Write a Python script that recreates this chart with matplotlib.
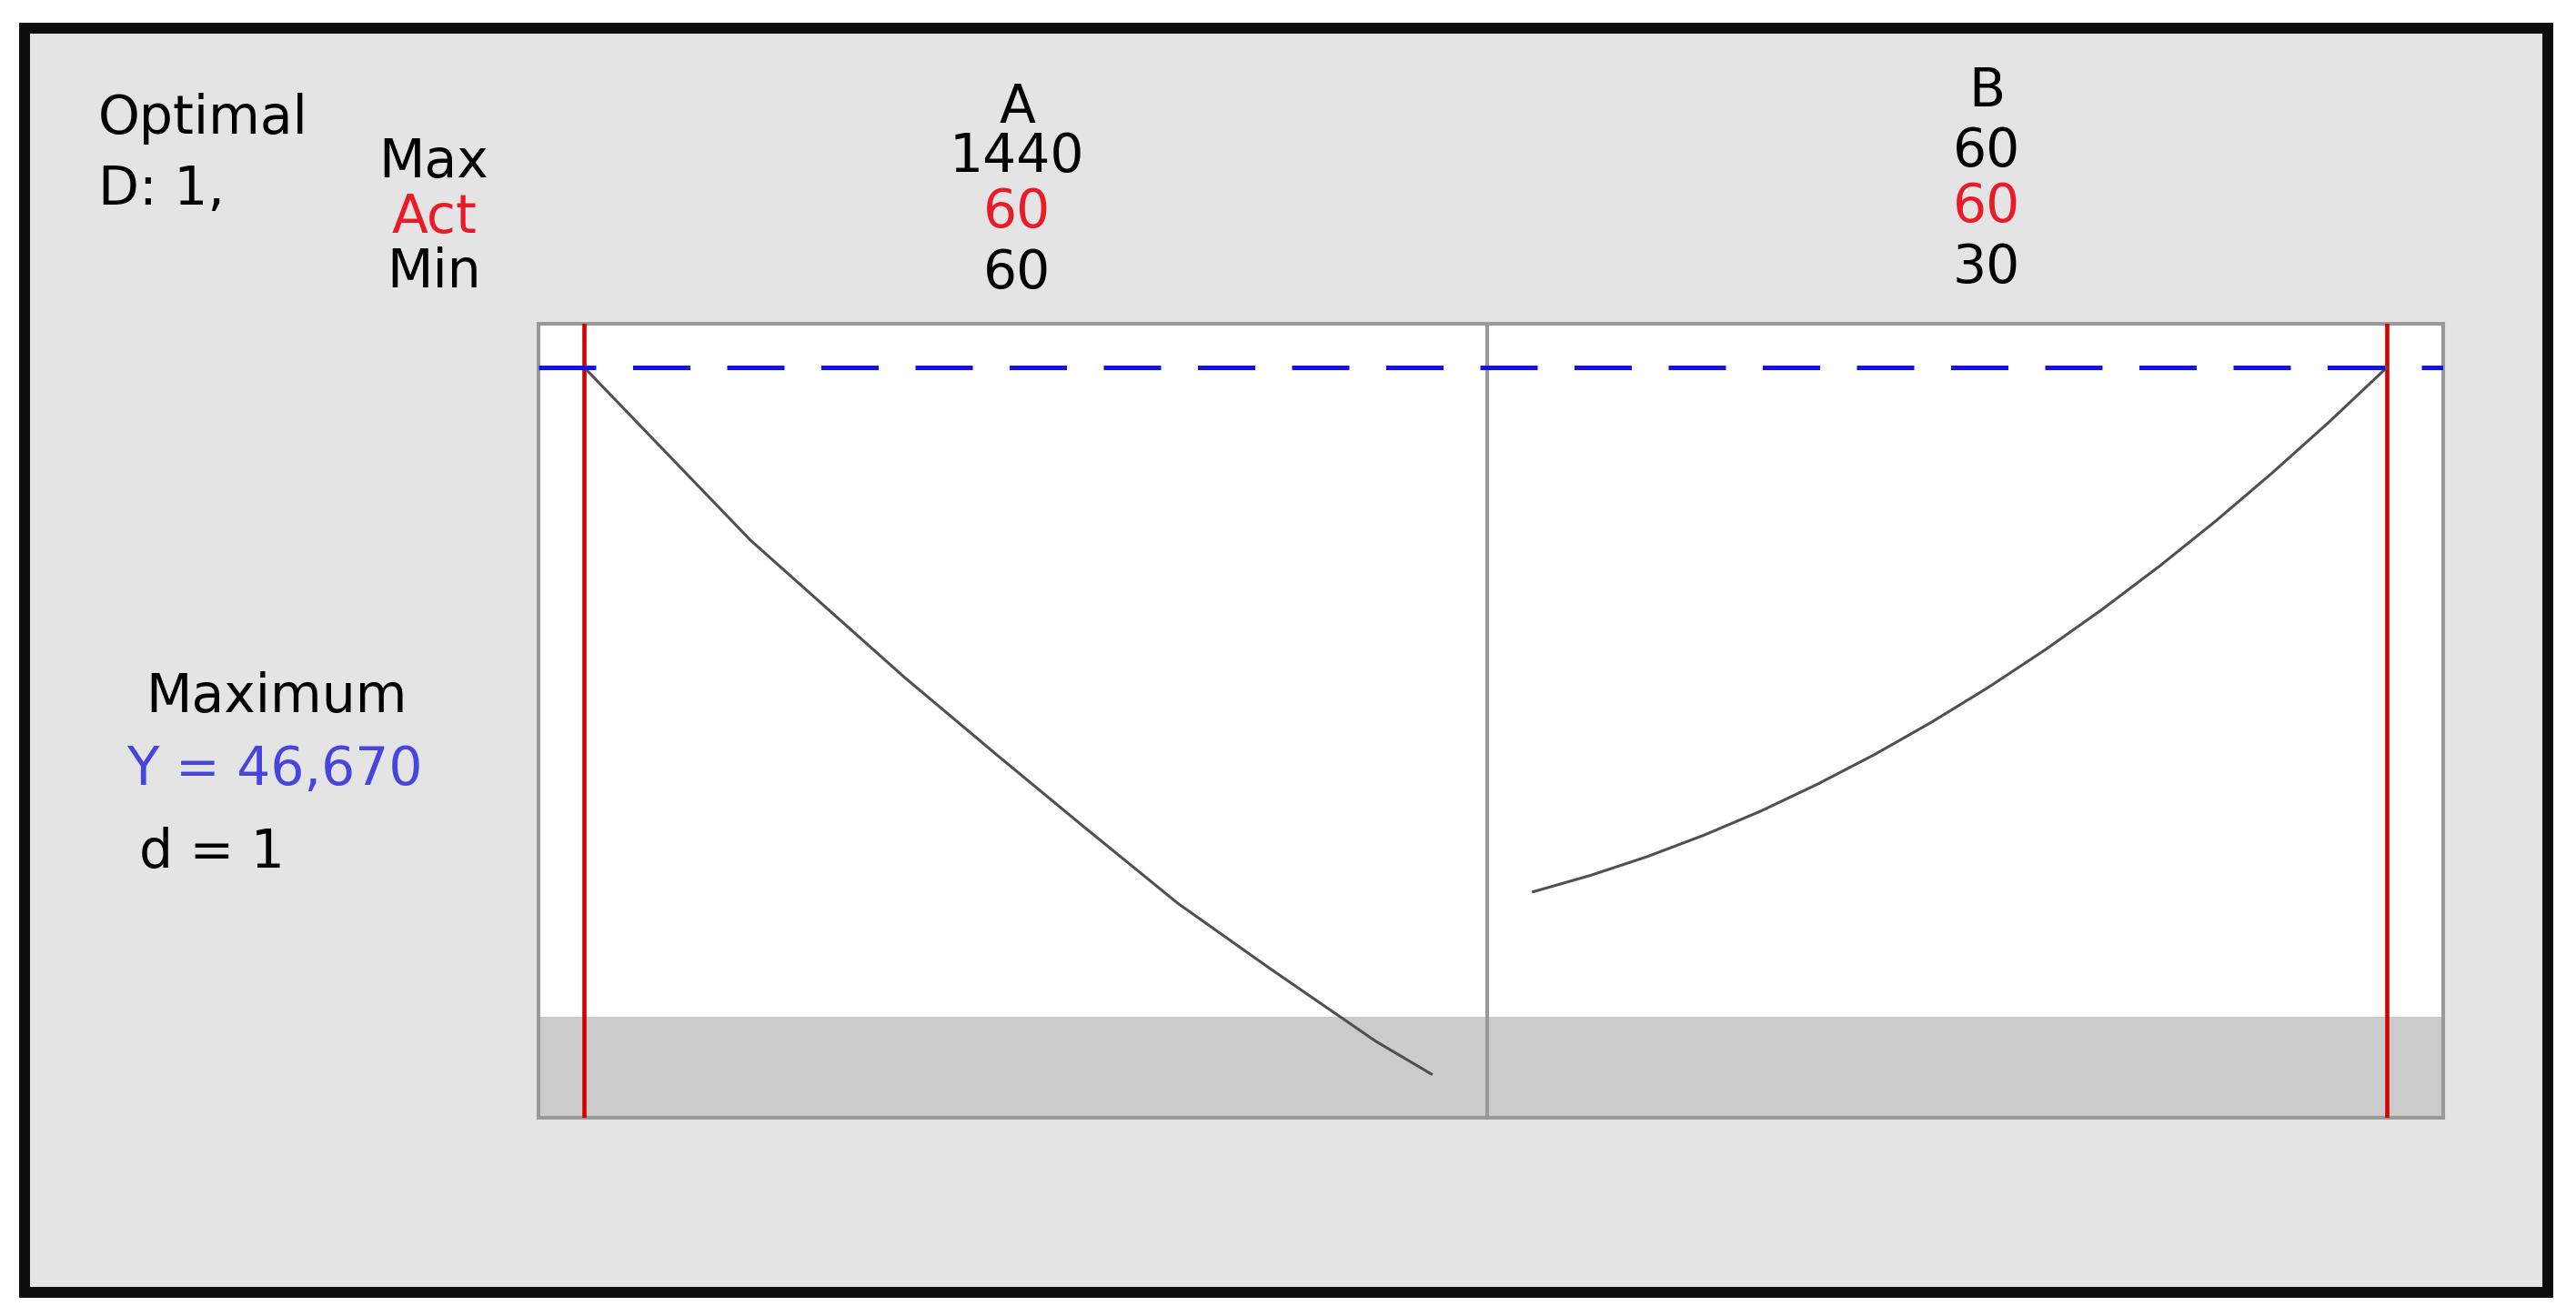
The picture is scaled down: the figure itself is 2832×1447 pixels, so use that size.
import matplotlib.pyplot as plt
from matplotlib.patches import Rectangle

# factor settings (Minitab optimal response plot)
factors = ["A", "B"]
max_vals = [1440, 60]
act_vals = [60, 60]
min_vals = [60, 30]

# response curves
a_x = [60, 331, 581, 731, 872, 1027, 1178, 1349, 1440]
a_y = [46.67, 35.92, 27.42, 22.61, 18.16, 13.34, 9.26, 4.77, 2.72]
b_x = [30, 32, 34, 36, 38, 40, 42, 44, 46, 48, 50, 52, 54, 56, 58, 60]
b_y = [14.06, 15.07, 16.24, 17.58, 19.08, 20.76, 22.60, 24.61,
       26.78, 29.12, 31.63, 34.30, 37.14, 40.16, 43.33, 46.67]

y_opt = 46.67
y_low = 6.28      # below this d = 0 (shaded)
y_top = 49.39

W, H = 2832, 1447
fig = plt.figure(figsize=(W / 100, H / 100), dpi=100)
fig.patch.set_facecolor("white")

# outer frame
fig.patches.append(Rectangle((27 / W, 1 - 1421 / H), 2774 / W, 1390 / H,
                             transform=fig.transFigure, facecolor="#e4e4e4",
                             edgecolor="#0d0d0d", linewidth=8.6, zorder=-1))

bottom = 1 - 1229 / H
height = (1229 - 356) / H
axA = fig.add_axes([592 / W, bottom, (1635 - 592) / W, height])
axB = fig.add_axes([1635 / W, bottom, (2686 - 1635) / W, height])
axAll = fig.add_axes([592 / W, bottom, (2686 - 592) / W, height])

curves = [(a_x, a_y), (b_x, b_y)]
for ax, (cx, cy), act, lo, hi in zip([axA, axB], curves, act_vals, min_vals, max_vals):
    rng = hi - lo
    ax.set_xlim(lo - 0.054 * rng, hi + 0.066 * rng)
    ax.set_ylim(0, y_top)
    ax.set_facecolor("white")
    ax.axhspan(0, y_low, color="#cbcbcb", lw=0, zorder=1)
    ax.axvline(act, color="#d40000", lw=3.3, zorder=3)
    ax.plot(cx, cy, color="#505050", lw=2.2, zorder=4)
    ax.set_xticks([])
    ax.set_yticks([])
    for s in ax.spines.values():
        s.set_color("#999999")
        s.set_linewidth(2.9)

axAll.set_ylim(0, y_top)
axAll.set_xlim(0, 1)
axAll.axis("off")
axAll.axhline(y_opt, color="#1212e6", lw=3.6, dashes=(12.6, 8.1), zorder=5)

fs = 42
fig.text(108 / W, 1 - 147 / H, "Optimal", fontsize=fs, ha="left", va="baseline")
fig.text(108 / W, 1 - 225 / H, "D: 1,", fontsize=fs, ha="left", va="baseline")

fig.text(477 / W, 1 - 195 / H, "Max", fontsize=fs, ha="center", va="baseline")
fig.text(477 / W, 1 - 256 / H, "Act", fontsize=fs, ha="center", va="baseline", color="#e81c28")
fig.text(477 / W, 1 - 316 / H, "Min", fontsize=fs, ha="center", va="baseline")

col_x = [1118, 2184]
head_y = [135, 117]
row_y = [[189, 250, 317], [183, 244, 311]]
for i in range(len(factors)):
    cx = col_x[i] / W
    fig.text(cx, 1 - head_y[i] / H, factors[i], fontsize=fs, ha="center", va="baseline")
    fig.text(cx, 1 - row_y[i][0] / H, str(max_vals[i]), fontsize=fs, ha="center", va="baseline")
    fig.text(cx, 1 - row_y[i][1] / H, str(act_vals[i]), fontsize=fs, ha="center",
             va="baseline", color="#e81c28")
    fig.text(cx, 1 - row_y[i][2] / H, str(min_vals[i]), fontsize=fs, ha="center", va="baseline")

fig.text(304 / W, 1 - 783 / H, "Maximum", fontsize=fs, ha="center", va="baseline")
fig.text(302 / W, 1 - 863 / H, "Y = 46,670", fontsize=fs, ha="center", va="baseline",
         color="#4646dc")
fig.text(153 / W, 1 - 954 / H, "d = 1", fontsize=fs, ha="left", va="baseline")

fig.savefig("out.png", dpi=100, facecolor=fig.get_facecolor())
